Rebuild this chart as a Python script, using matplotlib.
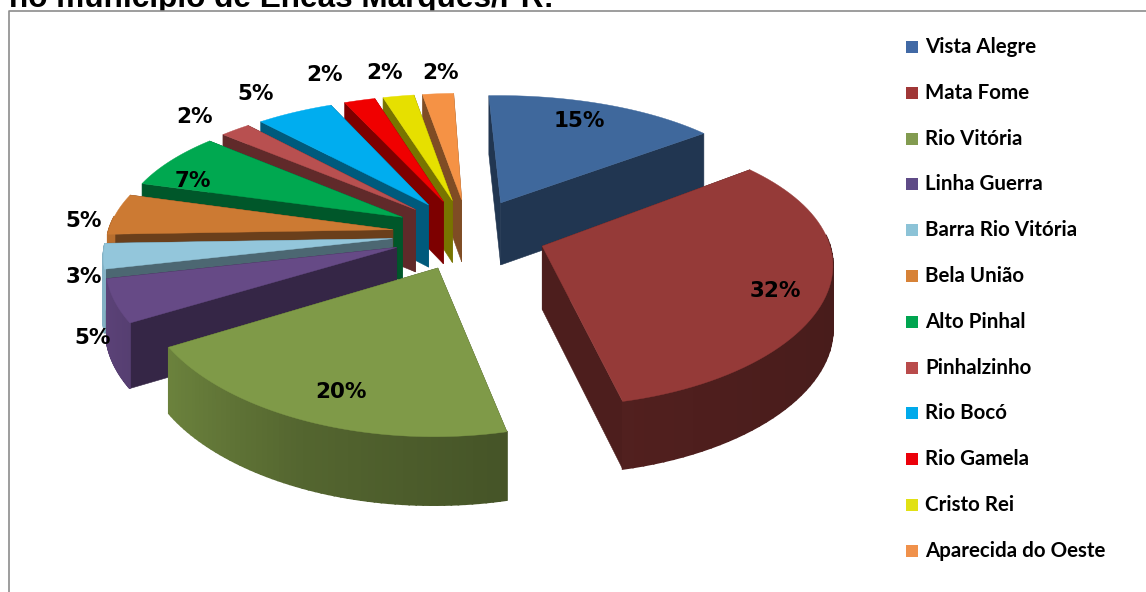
# -*- coding: utf-8 -*-
import numpy as np
import matplotlib
matplotlib.use('Agg')
import matplotlib.pyplot as plt
from matplotlib.colors import to_rgb
from matplotlib.patches import Rectangle

localidades = ['Vista Alegre', 'Mata Fome', 'Rio Vitória', 'Linha Guerra',
               'Barra Rio Vitória', 'Bela União', 'Alto Pinhal', 'Pinhalzinho',
               'Rio Bocó', 'Rio Gamela', 'Cristo Rei', 'Aparecida do Oeste']
percentuais = [15, 32, 20, 5, 3, 5, 7, 2, 5, 2, 2, 2]
cores_topo = ['#3F689C', '#953A38', '#7F9A48', '#664A86', '#93C6DB', '#CC7A33',
              '#00A850', '#B85050', '#00ADEF', '#F00000', '#E6E000', '#F59245']
cores_legenda = ['#4169A5', '#A03737', '#829B50', '#5F4B87', '#8CC3D7', '#D78237',
                 '#00A550', '#B94B4B', '#00AAEB', '#EB000A', '#E1E114', '#F0914B']
# centre of each percentage label, in figure pixels
pos_rotulos = [(579, 121), (775, 291), (341, 392), (93, 338), (84, 277), (84, 221),
               (193, 181), (195, 117), (256, 94), (324, 75), (385, 73), (441, 73)]

# pie geometry: explosion, perspective and depth
EXPLODE = 0.27
PERSP_X = 0.11
PERSP_Y = 0.15
ESC_X = 285.0
ESC_Y = 132.0
CENTRO_X = 469.0
CENTRO_Y = 234.0
PROF = 63.0
ROT = -2.0


def projeta(x, y, desce=False):
    wx = 1 + PERSP_X * y
    wy = 1 + PERSP_Y * y
    px = CENTRO_X + ESC_X * x / wx
    py = CENTRO_Y - ESC_Y * y / wy
    if desce:
        py = py + PROF / wy ** 0.4
    return px, py


def escurece(cor, f):
    return tuple(np.array(to_rgb(cor)) * f)


fig = plt.figure(figsize=(11.46, 5.92), dpi=100)
ax = fig.add_axes([0, 0, 1, 1])
ax.set_xlim(0, 1146)
ax.set_ylim(592, 0)
ax.axis('off')

total = float(sum(percentuais))
limites = np.cumsum([0] + percentuais) / total * 360.0 + ROT

# back slices are painted first
fatias = []
for i in range(len(percentuais)):
    ini, fim = limites[i], limites[i + 1]
    meio = np.radians((ini + fim) / 2)
    fatias.append((np.cos(meio), i, ini, fim, meio))
fatias.sort(key=lambda f: -f[0])

for _, i, ini, fim, meio in fatias:
    cor = cores_topo[i]
    ax0 = EXPLODE * np.sin(meio)
    ay0 = EXPLODE * np.cos(meio)
    t = np.radians(np.linspace(ini, fim, 60))
    xs = ax0 + np.sin(t)
    ys = ay0 + np.cos(t)

    # flat walls along both radial edges
    for k in [0, -1]:
        ex = np.array([ax0, xs[k]])
        ey = np.array([ay0, ys[k]])
        p1 = projeta(ex, ey)
        p2 = projeta(ex, ey, True)
        ax.fill(np.r_[p1[0], p2[0][::-1]], np.r_[p1[1], p2[1][::-1]],
                color=escurece(cor, 0.52), lw=0.4, zorder=3)

    # outer wall, shaded strip by strip
    px1, py1 = projeta(xs, ys)
    px2, py2 = projeta(xs, ys, True)
    fator = np.interp(np.sin(t), [-1, -0.4, 0.2, 1], [0.9, 0.66, 0.55, 0.48])
    for j in range(len(t) - 1):
        if np.cos(t[j]) > 0.1:
            continue
        ax.fill([px1[j], px1[j + 1], px2[j + 1], px2[j]],
                [py1[j], py1[j + 1], py2[j + 1], py2[j]],
                color=escurece(cor, fator[j]), lw=1.2, zorder=3)

    # top face
    ox, oy = projeta(np.r_[ax0, xs], np.r_[ay0, ys])
    ax.fill(ox, oy, color=cor, lw=0.3, zorder=3)

for i, (lx, ly) in enumerate(pos_rotulos):
    ax.text(lx, ly, '%d%%' % percentuais[i], ha='center', va='center',
            family='DejaVu Sans', weight='bold', fontsize=15.5,
            color='black', zorder=5)

# legend column
for i, nome in enumerate(localidades):
    y = 47 + i * 45.8
    ax.fill([906, 918, 918, 906], [y - 6, y - 6, y + 6, y + 6],
            color=cores_legenda[i], lw=0, zorder=4)
    ax.text(925, y, nome, ha='left', va='center', family='Lato', weight='bold',
            fontsize=14.8, color='black', zorder=5)

# caption line running behind the chart frame
ax.text(9, 7, 'no município de Enéas Marques/PR:', ha='left', va='baseline',
        family='Liberation Sans', weight='bold', fontsize=22.7, color='black',
        clip_on=False, zorder=1)
ax.add_patch(Rectangle((8.5, 10.5), 1138, 582, facecolor='white',
                       edgecolor='none', zorder=2))
ax.plot([8.5, 8.5, 1146], [592, 10.5, 10.5], color='#8c8c8c', lw=1.2, zorder=2.5)

plt.savefig('out.png', dpi=100)
